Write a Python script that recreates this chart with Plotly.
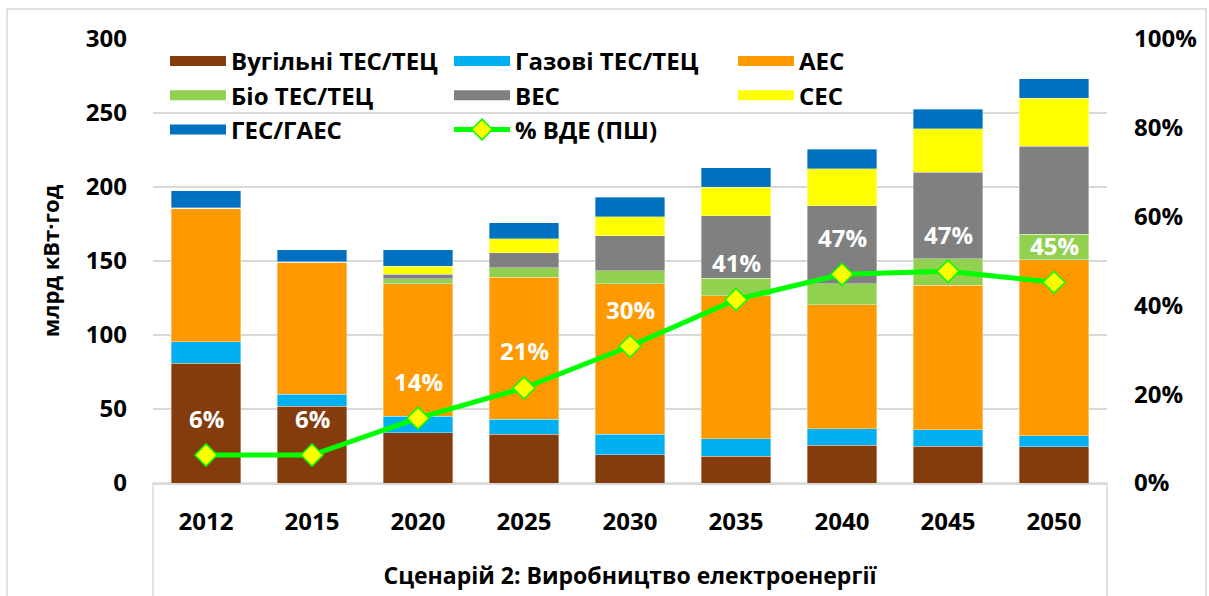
import plotly.graph_objects as go

years = ["2012", "2015", "2020", "2025", "2030", "2035", "2040", "2045", "2050"]

coal = [81, 52, 34, 33, 19, 18, 25.5, 25, 24.5]
gas = [14.5, 8, 11, 10, 14, 12, 11, 11, 7.5]
nuclear = [90, 89, 89.5, 96, 101.5, 96.5, 84, 97.5, 119]
bio = [0, 0, 3.5, 6.5, 9, 12, 14, 18, 17]
wind = [0, 0.5, 3, 10, 23.5, 42, 53, 58.5, 59.5]
solar = [0.5, 0, 5.5, 9.5, 13, 19.5, 25, 29.5, 32.5]
hydro = [11.5, 8, 11, 11, 13, 13, 13, 13, 13]
res_share = [0.063, 0.063, 0.146, 0.214, 0.308, 0.413, 0.47, 0.477, 0.452]
res_labels = ["6%", "6%", "14%", "21%", "30%", "41%", "47%", "47%", "45%"]

series = [
    ("Вугільні ТЕС/ТЕЦ", coal, "#843C0C"),
    ("Газові ТЕС/ТЕЦ", gas, "#00B0F0"),
    ("АЕС", nuclear, "#FF9900"),
    ("Біо ТЕС/ТЕЦ", bio, "#92D050"),
    ("ВЕС", wind, "#808080"),
    ("СЕС", solar, "#FFFF00"),
    ("ГЕС/ГАЕС", hydro, "#0070C0"),
]
line_name = "% ВДЕ (ПШ)"

FONT = "Open Sans"
fig = go.Figure()

for name, vals, col in series:
    fig.add_trace(go.Bar(
        x=years, y=vals, name=name,
        marker=dict(color=col, line=dict(width=0.6, color="rgba(255,255,255,0.6)")),
        showlegend=False, legendgroup=name,
    ))

fig.add_trace(go.Scatter(
    x=years, y=res_share, yaxis="y2", mode="lines+markers", name=line_name,
    line=dict(color="#00FF00", width=5),
    marker=dict(symbol="diamond", size=17, color="#FFFF00", line=dict(color="#00FF00", width=1.5)),
    showlegend=False, legendgroup=line_name,
))

# legend entries (wide swatches)
for name, vals, col in series:
    fig.add_trace(go.Scatter(
        x=[None], y=[None], mode="lines", name=name, legendgroup=name,
        line=dict(color=col, width=16), showlegend=True,
    ))
fig.add_trace(go.Scatter(
    x=[None], y=[None], yaxis="y2", mode="lines+markers", name=line_name, legendgroup=line_name,
    line=dict(color="#00FF00", width=5),
    marker=dict(symbol="diamond", size=17, color="#FFFF00", line=dict(color="#00FF00", width=1.5)),
))

for i, (v, lab) in enumerate(zip(res_share, res_labels)):
    fig.add_annotation(
        x=i, y=v, xref="x", yref="y2", text=f"<b>{lab}</b>", showarrow=False, yshift=37,
        font=dict(family=FONT, size=24, color="white"),
    )

# outer chart frame and category-axis box
W, H = 1209, 596
L, R, T, B = 153, 102, 39, 113
pw, ph = W - L - R, H - T - B
def px_x(x):
    return (x - L) / pw
def px_y(y):
    return (H - B - y) / ph

fig.add_shape(type="rect", xref="paper", yref="paper",
              x0=px_x(7), x1=px_x(1206), y0=px_y(610), y1=px_y(9),
              line=dict(color="#D9D9D9", width=1.5), layer="below")
fig.add_shape(type="rect", xref="paper", yref="paper",
              x0=0, x1=1, y0=px_y(610), y1=0,
              line=dict(color="#D9D9D9", width=1.5), layer="below")

fig.update_layout(
    width=W, height=H,
    margin=dict(l=L, r=R, t=T, b=B, autoexpand=False),
    paper_bgcolor="white", plot_bgcolor="white",
    barmode="stack", bargap=0.34,
    font=dict(family=FONT, color="black"),
    legend=dict(
        orientation="h", x=px_x(165), y=px_y(39), xanchor="left", yanchor="top",
        entrywidth=213, itemwidth=56, bgcolor="rgba(0,0,0,0)",
        font=dict(family=FONT, size=24, color="black", weight="bold"),
        tracegroupgap=0, traceorder="normal",
    ),
    xaxis=dict(
        type="category", range=[-0.5, len(years) - 0.5],
        showgrid=False, showline=True, linecolor="#D9D9D9", linewidth=1.5,
        tickfont=dict(family=FONT, size=24, weight="bold"), ticks="", ticklabelstandoff=16,
        title=dict(text="Сценарій 2: Виробництво електроенергії",
                   font=dict(family=FONT, size=23, weight="bold"), standoff=32),
    ),
    yaxis=dict(
        range=[0, 300], dtick=50, showgrid=True, gridcolor="#D9D9D9", gridwidth=1.5,
        zeroline=False, showline=False, ticks="",
        tickfont=dict(family=FONT, size=24, weight="bold"), ticklabelstandoff=25,
        title=dict(text="млрд кВт·год", font=dict(family=FONT, size=22, weight="bold"), standoff=20),
    ),
    yaxis2=dict(
        range=[0, 1], dtick=0.2, tickformat=".0%", overlaying="y", side="right",
        showgrid=False, zeroline=False, showline=False, ticks="",
        tickfont=dict(family=FONT, size=24, weight="bold"), ticklabelstandoff=26,
    ),
    showlegend=True,
)

fig.write_html("out.html", config={"displayModeBar": False},
               post_script="document.body.style.margin='0';")
